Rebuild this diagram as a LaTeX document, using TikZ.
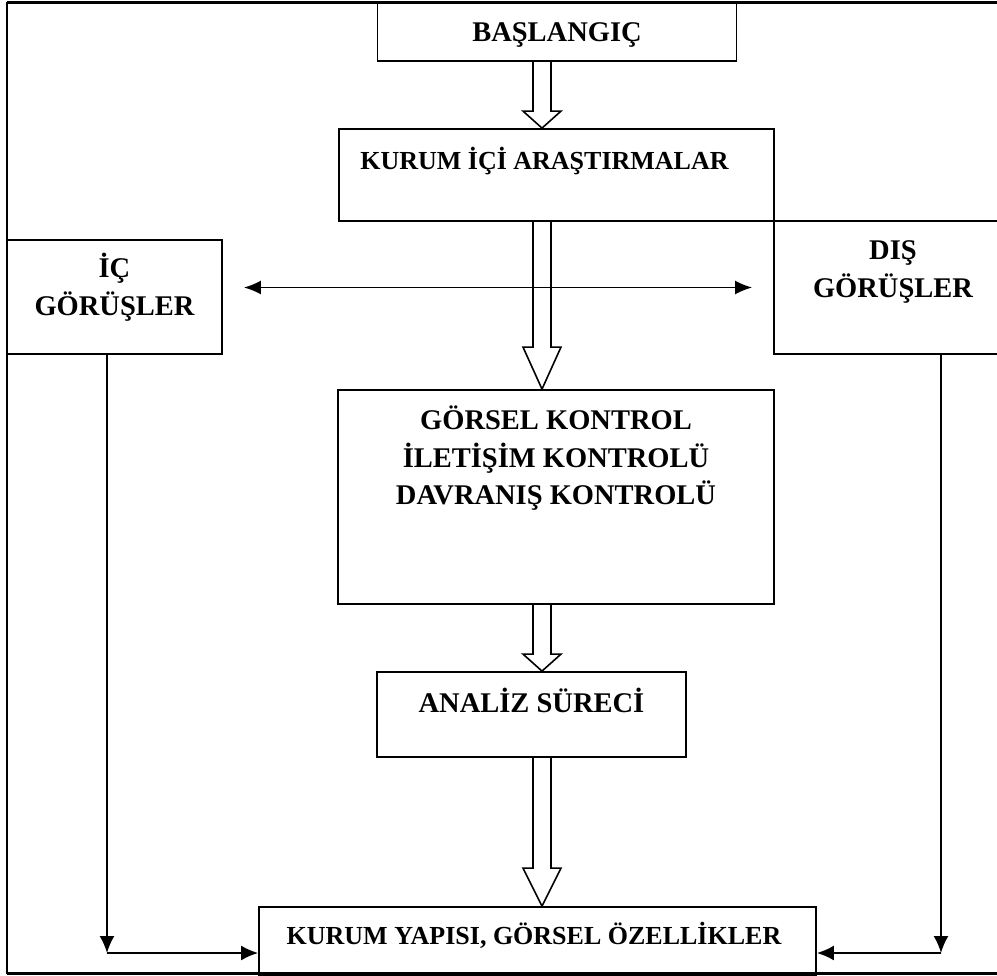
\documentclass[tikz,border=0pt]{standalone}
\usepackage{fontspec}
\setmainfont{Liberation Serif}
\usetikzlibrary{arrows.meta,calc}
\newcommand{\boxlines}[1]{\begin{tabular}[t]{@{}c@{}}#1\end{tabular}}

\begin{document}
\begin{tikzpicture}[
		x=1pt, y=-1pt,
		block/.style={draw, line width=1.8pt, anchor=base, inner ysep=0pt, font=\fontsize{28.5}{37.5}\selectfont\bfseries},
		small/.style={font=\fontsize{26}{34}\selectfont\bfseries},
		hollow/.style={line width=1.6pt, line join=miter},
		link/.style={line width=1.8pt, -{Latex[length=17pt,width=15pt]}},
		both/.style={line width=1.8pt, {Latex[length=17pt,width=14pt]}-{Latex[length=17pt,width=14pt]}},
	]
	\useasboundingbox (0,0) rectangle (997,976);
	\draw[line width=1.4pt] (7,3) rectangle (1010,973);
	\draw[line width=3pt] (7,3) -- (1010,3) (7,973) -- (1010,973);

	\node (start) [block, minimum width=359pt, text height=39pt, text depth=19pt] at (557,42) {BAŞLANGIÇ};
	\node (kurum) [block, small, minimum width=435pt, text height=41pt, text depth=51pt] at (556.5,170) {KURUM İÇİ ARAŞTIRMALAR\hspace*{24pt}};
	\node (ic) [block, minimum width=215pt, text height=38pt, text depth=76pt] at (114.5,278) {\boxlines{İÇ\\GÖRÜŞLER}};
	\node (dis) [block, minimum width=238pt, text height=39pt, text depth=94pt] at (893,260) {\boxlines{DIŞ\\GÖRÜŞLER}};
	\node (gorsel) [block, minimum width=436pt, text height=40pt, text depth=174pt] at (556,430) {\boxlines{GÖRSEL KONTROL\\İLETİŞİM KONTROLÜ\\DAVRANIŞ KONTROLÜ}};
	\node (analiz) [block, minimum width=309pt, text height=40pt, text depth=45pt] at (531.5,712) {ANALİZ SÜRECİ};
	\node (yapi) [block, small, minimum width=557pt, text height=37pt, text depth=31pt] at (537.5,944) {KURUM YAPISI, GÖRSEL ÖZELLİKLER\hspace*{7pt}};

	\coordinate (ax) at (542,0);
	\coordinate (cl) at (107,953);
	\coordinate (cr) at (941,953);

	% hollow arrows down the middle
	\foreach \a/\b/\h in {start/kurum/17, kurum/gorsel/42, gorsel/analiz/17, analiz/yapi/38}
		\draw[hollow] ($(\a.south -| ax)+(-9,0)$) -- ($(\b.north -| ax)+(-9,-\h)$) -- ($(\b.north -| ax)+(-19,-\h)$) -- (\b.north -| ax)
			-- ($(\b.north -| ax)+(19,-\h)$) -- ($(\b.north -| ax)+(9,-\h)$) -- ($(\a.south -| ax)+(9,0)$);

	\draw[both, shorten <=21pt, shorten >=21pt] (ic.east |- dis.west) -- (dis.west);
	\draw[link] (ic.south -| cl) -- (cl);
	\draw[link] (cl) -- (cl -| yapi.west);
	\draw[link] (dis.south -| cr) -- (cr);
	\draw[link] (cr) -- (cr -| yapi.east);
\end{tikzpicture}
\end{document}
